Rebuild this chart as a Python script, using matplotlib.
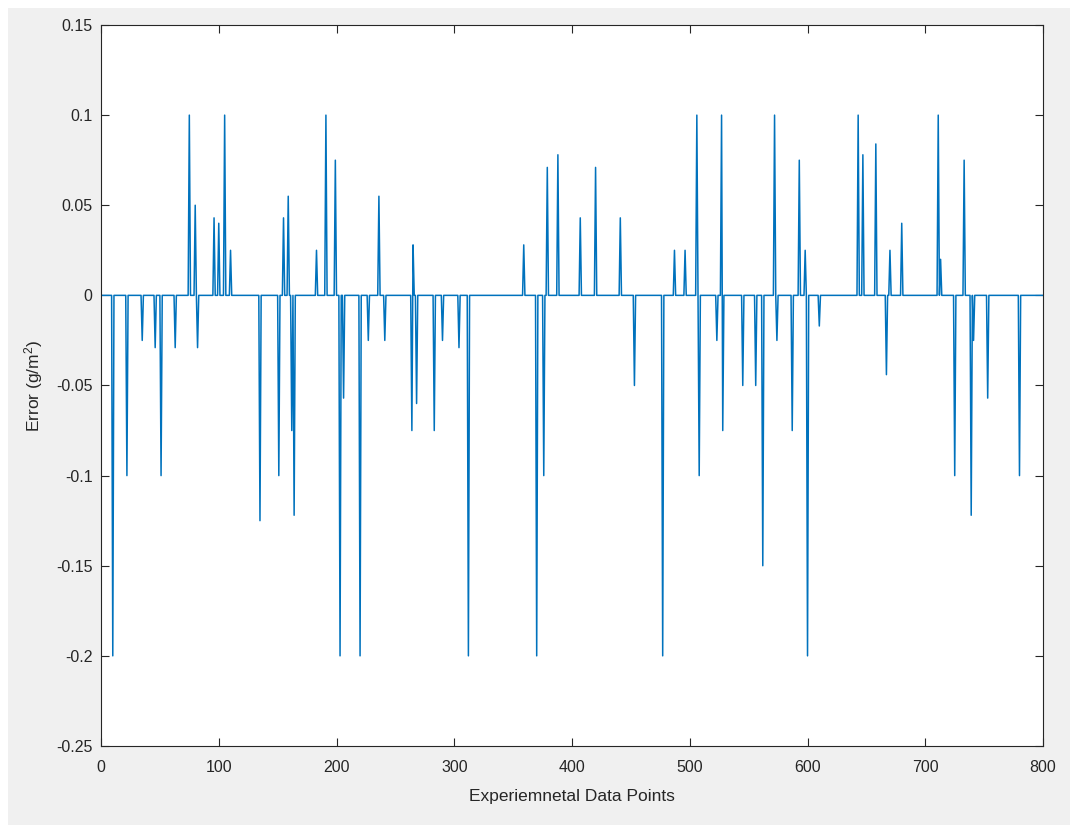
import numpy as np
import matplotlib
matplotlib.use('Agg')
import matplotlib.pyplot as plt
from matplotlib.patches import Rectangle

# Number of experimental points on the x axis
n_points = 800

# Points where the model error is non-zero, with the error at each one (g/m^2)
spike_index = [10, 22, 35, 46, 51, 63, 75, 80, 82, 96, 100, 105, 110,
               135, 151, 155, 159, 162, 164, 183, 191, 199, 203, 206,
               220, 227, 236, 241, 264, 265, 268, 283, 290, 304, 312,
               359, 370, 376, 379, 388, 407, 420, 441, 453, 477, 487,
               496, 506, 508, 523, 527, 528, 545, 556, 562, 572, 574,
               587, 593, 598, 600, 610, 643, 647, 658, 667, 670, 680,
               711, 713, 725, 733, 739, 741, 753, 780]
spike_error = [-0.2, -0.1, -0.025, -0.029, -0.1, -0.029, 0.1, 0.05, -0.029,
               0.043, 0.04, 0.1, 0.025,
               -0.125, -0.1, 0.043, 0.055, -0.075, -0.122, 0.025, 0.1,
               0.075, -0.2, -0.057,
               -0.2, -0.025, 0.055, -0.025, -0.075, 0.028, -0.06, -0.075,
               -0.025, -0.029, -0.2,
               0.028, -0.2, -0.1, 0.071, 0.078, 0.043, 0.071, 0.043, -0.05,
               -0.2, 0.025,
               0.025, 0.1, -0.1, -0.025, 0.1, -0.075, -0.05, -0.05, -0.15,
               0.1, -0.025,
               -0.075, 0.075, 0.025, -0.2, -0.017, 0.1, 0.078, 0.084,
               -0.044, 0.025, 0.04,
               0.1, 0.02, -0.1, 0.075, -0.122, -0.025, -0.057, -0.1]

x_ticks = [0, 100, 200, 300, 400, 500, 600, 700, 800]
y_ticks = [-0.25, -0.2, -0.15, -0.1, -0.05, 0, 0.05, 0.1, 0.15]
y_tick_labels = ['-0.25', '-0.2', '-0.15', '-0.1', '-0.05', '0', '0.05',
                 '0.1', '0.15']

plt.rcParams['font.family'] = ['Liberation Sans', 'DejaVu Sans']
plt.rcParams['mathtext.default'] = 'regular'

points = np.arange(0, n_points + 1)
error = np.zeros(points.size)
error[spike_index] = spike_error

fig = plt.figure(figsize=(10.7, 8.25), dpi=100, facecolor='white')
# grey window panel behind the axes, leaving a thin white edge top/left
fig.patches.append(Rectangle((8 / 1070, 0), 1, 1 - 8 / 825,
                             transform=fig.transFigure, facecolor='#f0f0f0',
                             edgecolor='none', zorder=-1))
ax = fig.add_axes([0.0944, 0.0958, 0.8804, 0.8739])
ax.set_facecolor('white')

ax.plot(points, error, color='#0072bd', linewidth=1.1)

ax.set_xlim(0, 800)
ax.set_ylim(-0.25, 0.15)
ax.set_xticks(x_ticks)
ax.set_yticks(y_ticks)
ax.set_yticklabels(y_tick_labels)

grey = '#262626'
ax.tick_params(direction='in', length=6, width=0.8, colors=grey,
               labelsize=11.5, top=True, right=True)
ax.tick_params(axis='x', pad=10)
ax.tick_params(axis='y', pad=6)
for spine in ax.spines.values():
    spine.set_color(grey)
    spine.set_linewidth(0.8)

ax.set_xlabel('Experiemnetal Data Points', fontsize=12.5, color=grey,
              labelpad=10)
ax.set_ylabel('Error (g/m$^2$)', fontsize=12.5, color=grey, labelpad=8)

fig.savefig('out.png', dpi=100, facecolor=fig.get_facecolor())
